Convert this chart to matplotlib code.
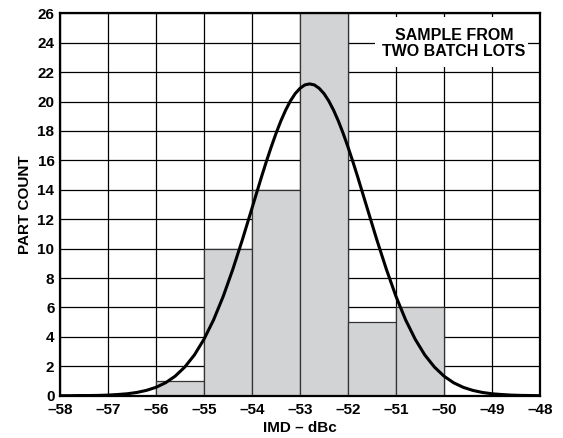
import matplotlib
matplotlib.use("Agg")
import matplotlib.pyplot as plt
from matplotlib.patches import Rectangle

# ---- data ----
bin_left = [-56, -55, -54, -53, -52, -51]
bin_counts = [1, 10, 14, 26, 5, 6]
bin_width = 1.0

curve_x = [-58.0, -57.8, -57.6, -57.4, -57.2, -57.0, -56.8, -56.6, -56.4, -56.2,
           -56.0, -55.8, -55.6, -55.4, -55.2, -55.0, -54.8, -54.6, -54.4, -54.2,
           -54.0, -53.8, -53.7, -53.6, -53.5, -53.4, -53.3, -53.2, -53.1, -53.0,
           -52.9, -52.8, -52.7, -52.6, -52.5, -52.4, -52.3, -52.2, -52.1, -52.0,
           -51.9, -51.8, -51.6, -51.4, -51.2, -51.0, -50.8, -50.6, -50.4, -50.2,
           -50.0, -49.8, -49.6, -49.4, -49.2, -49.0, -48.8, -48.6, -48.4, -48.2, -48.0]
curve_y = [0.00, 0.00, 0.01, 0.01, 0.02, 0.04, 0.08, 0.13, 0.22, 0.36,
           0.57, 0.88, 1.33, 1.95, 2.77, 3.84, 5.16, 6.75, 8.59, 10.61,
           12.75, 14.90, 15.93, 16.91, 17.83, 18.67, 19.41, 20.04, 20.54, 20.90,
           21.13, 21.20, 21.13, 20.90, 20.54, 20.04, 19.41, 18.67, 17.83, 16.91,
           15.93, 14.90, 12.75, 10.61, 8.59, 6.75, 5.16, 3.84, 2.77, 1.95,
           1.33, 0.88, 0.57, 0.36, 0.22, 0.13, 0.08, 0.04, 0.02, 0.01, 0.00]

x_ticks = [-58, -57, -56, -55, -54, -53, -52, -51, -50, -49, -48]
x_tick_labels = ["\u201358", "\u201357", "\u201356", "\u201355", "\u201354", "\u201353",
                 "\u201352", "\u201351", "\u201350", "\u201349", "\u201348"]
y_ticks = [0, 2, 4, 6, 8, 10, 12, 14, 16, 18, 20, 22, 24, 26]
y_tick_labels = [str(v) for v in y_ticks]

x_label = "IMD \u2013 dBc"
y_label = "PART COUNT"
note = "SAMPLE FROM\nTWO BATCH LOTS"

# ---- figure ----
plt.rcParams["font.family"] = ["Liberation Sans", "DejaVu Sans"]
plt.rcParams["font.weight"] = "bold"

fig = plt.figure(figsize=(5.63, 4.38), dpi=100)
ax = fig.add_axes([0.1066, 0.0966, 0.8525, 0.873])

ax.set_xlim(-58, -48)
ax.set_ylim(0, 26)
ax.set_xticks(x_ticks)
ax.set_xticklabels(x_tick_labels, fontsize=11, fontweight="bold")
ax.set_yticks(y_ticks)
ax.set_yticklabels(y_tick_labels, fontsize=11, fontweight="bold")
ax.tick_params(axis="x", length=0, pad=5)
ax.tick_params(axis="y", length=0, pad=4)

ax.grid(True, color="black", linewidth=0.9, zorder=1)
ax.set_axisbelow(True)

ax.bar(bin_left, bin_counts, width=bin_width, align="edge",
       color="#d2d3d5", edgecolor="#333333", linewidth=0.9, zorder=2)

ax.plot(curve_x, curve_y, color="black", linewidth=2.2, zorder=3,
        solid_capstyle="round", solid_joinstyle="round")

# white knock-out box behind the note
ax.add_patch(Rectangle((-51.44, 22.35), 3.2, 3.4, facecolor="white",
                       edgecolor="none", zorder=3.5))
ax.text(-49.79, 23.95, note, ha="center", va="center", fontsize=11.5,
        fontweight="bold", linespacing=1.05, zorder=4)

for s in ax.spines.values():
    s.set_linewidth(1.6)
    s.set_color("black")
    s.set_zorder(5)

ax.set_xlabel(x_label, fontsize=11, fontweight="bold", labelpad=3)
ax.set_ylabel(y_label, fontsize=11, fontweight="bold", labelpad=4)

fig.savefig("out.png", dpi=100)
